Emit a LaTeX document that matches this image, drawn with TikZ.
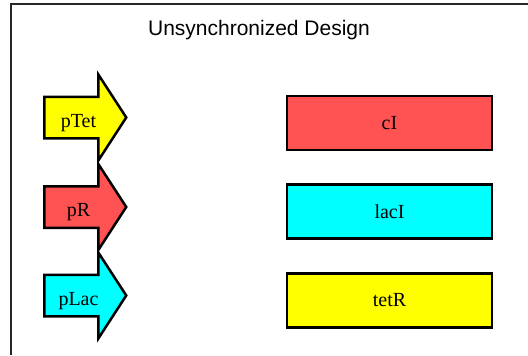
\documentclass[tikz,border=0pt]{standalone}
\usepackage{fontspec}
\setmainfont{Liberation Serif}
\setsansfont{Liberation Sans}
\usetikzlibrary{shapes.arrows}

\definecolor{genered}{RGB}{255,82,82}
\definecolor{genecyan}{RGB}{0,255,255}
\definecolor{geneyellow}{RGB}{255,255,0}

\begin{document}
\begin{tikzpicture}[
    x=1pt, y=-1pt,
    prom/.style={
        single arrow,
        draw=black,
        line width=2.5pt,
        minimum width=83pt,
        minimum height=82pt,
        single arrow head extend=22pt,
        single arrow tip angle=114,
        text height=19pt,
        text depth=0pt,
        inner ysep=10pt,
        inner xsep=0pt,
        anchor=tail,
        font=\fontsize{20}{24}\selectfont
    },
    gene/.style={
        draw=black,
        line width=2.5pt,
        minimum width=205pt,
        minimum height=54pt,
        inner sep=0pt,
        font=\fontsize{20}{24}\selectfont
    }
]
    \useasboundingbox (0,0) rectangle (528,356);
    \draw[line width=2pt, draw=black!85] (11,355) -- (11,4) -- (540,4);
    \node[font=\sffamily\fontsize{21}{25}\selectfont] (title) at (259,30.5)
        {Unsynchronized Design};

    \node[prom, fill=geneyellow] (ptet) at (43,117.5) {pTet};
    \node[prom, fill=genered] (pr) at (43,207) {pR};
    \node[prom, fill=genecyan] (plac) at (43,295.5) {pLac};

    \node[gene, fill=genered] (ci) at (389.5,123) {cI};
    \node[gene, fill=genecyan] (laci) at (389.5,211.5) {lacI};
    \node[gene, fill=geneyellow] (tetr) at (389.5,300.5) {tetR};
\end{tikzpicture}
\end{document}
